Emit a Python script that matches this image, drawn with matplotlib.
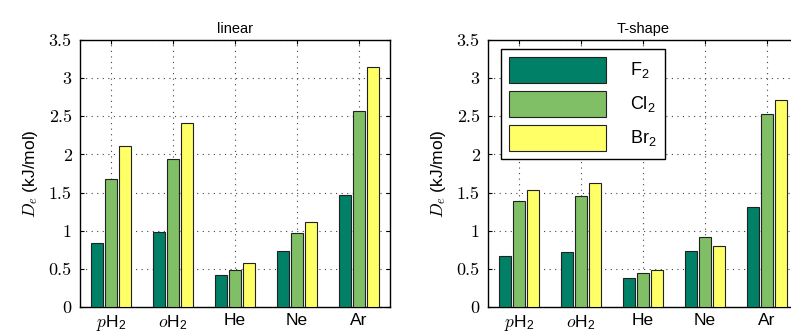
import numpy as np
import matplotlib
matplotlib.use("Agg")
import matplotlib.pyplot as plt
from matplotlib.patches import Rectangle
from matplotlib.legend_handler import HandlerPatch

# sans text, with Computer Modern italics for the math symbols
plt.rcParams['font.family'] = ['Liberation Sans', 'DejaVu Sans']
plt.rcParams['mathtext.fontset'] = 'custom'
plt.rcParams['mathtext.rm'] = 'Liberation Sans'
plt.rcParams['mathtext.it'] = 'cmmi10'
plt.rcParams['mathtext.bf'] = 'Liberation Sans:bold'

#data
hosts = ['$p$H$_2$', '$o$H$_2$', 'He', 'Ne', 'Ar']
molecules = ['F$_2$', 'Cl$_2$', 'Br$_2$']
yticks = [0, 0.5, 1, 1.5, 2, 2.5, 3, 3.5]
ytick_labels = ['0', '0.5', '1', '1.5', '2', '2.5', '3', '3.5']

linear_F2 = [0.84, 0.98, 0.42, 0.73, 1.47]
linear_Cl2 = [1.68, 1.94, 0.48, 0.97, 2.57]
linear_Br2 = [2.11, 2.41, 0.58, 1.12, 3.14]

tshape_F2 = [0.67, 0.72, 0.38, 0.73, 1.31]
tshape_Cl2 = [1.39, 1.45, 0.45, 0.92, 2.53]
tshape_Br2 = [1.53, 1.62, 0.48, 0.80, 2.71]

# summer colormap, 3 levels
colors = [(0.0, 0.5, 0.4), (0.5, 0.75, 0.4), (1.0, 1.0, 0.4)]

fig = plt.figure(figsize=(7.91, 3.33), dpi=100)
ax1 = fig.add_axes([80/791, 26/333, 310/791, 267/333])
ax2 = fig.add_axes([488/791, 26/333, 310/791, 267/333])

x = np.arange(1, len(hosts) + 1)
width = 0.18
step = 0.227


def draw_panel(ax, series, title):
    for k, vals in enumerate(series):
        ax.bar(x + (k - 1) * step, vals, width, color=colors[k],
               edgecolor='#222222', linewidth=0.8, label=molecules[k], zorder=3)
    ax.set_xlim(0.5, 5.5)
    ax.set_ylim(0, 3.5)
    ax.set_xticks(x)
    ax.set_xticklabels(hosts, fontsize=12.5)
    ax.set_yticks(yticks)
    ax.set_yticklabels(ytick_labels, fontsize=13, family='cmr10')
    ax.tick_params(direction='in', top=True, right=True, length=3, width=0.8, pad=4)
    ax.tick_params(axis='y', pad=6)
    ax.grid(True, linestyle=(0, (1, 4)), color='#444444', linewidth=0.8, zorder=0)
    ax.set_axisbelow(True)
    for s in ax.spines.values():
        s.set_linewidth(1.0)
        s.set_color('black')
    ax.set_ylabel('$D_e$ (kJ/mol)', fontsize=12.5, labelpad=6)
    ax.set_title(title, fontsize=10.5, pad=5)


draw_panel(ax1, [linear_F2, linear_Cl2, linear_Br2], 'linear')
draw_panel(ax2, [tshape_F2, tshape_Cl2, tshape_Br2], 'T-shape')


# legend swatch, indented a little from the frame
def swatch(legend, orig_handle, xdescent, ydescent, width, height, fontsize):
    off = 0.4 * fontsize
    return Rectangle((-xdescent + off, -ydescent), width - off, height)


leg = ax2.legend(loc='upper left', bbox_to_anchor=(0.041, 0.965), borderaxespad=0,
                 fontsize=13, fancybox=False, edgecolor='black', framealpha=1,
                 handlelength=5.4, handleheight=1.84, labelspacing=0.42,
                 handletextpad=1.3, borderpad=0.45,
                 handler_map={Rectangle: HandlerPatch(patch_func=swatch)})
leg.get_frame().set_linewidth(1.0)

plt.savefig('out.png', dpi=100)
